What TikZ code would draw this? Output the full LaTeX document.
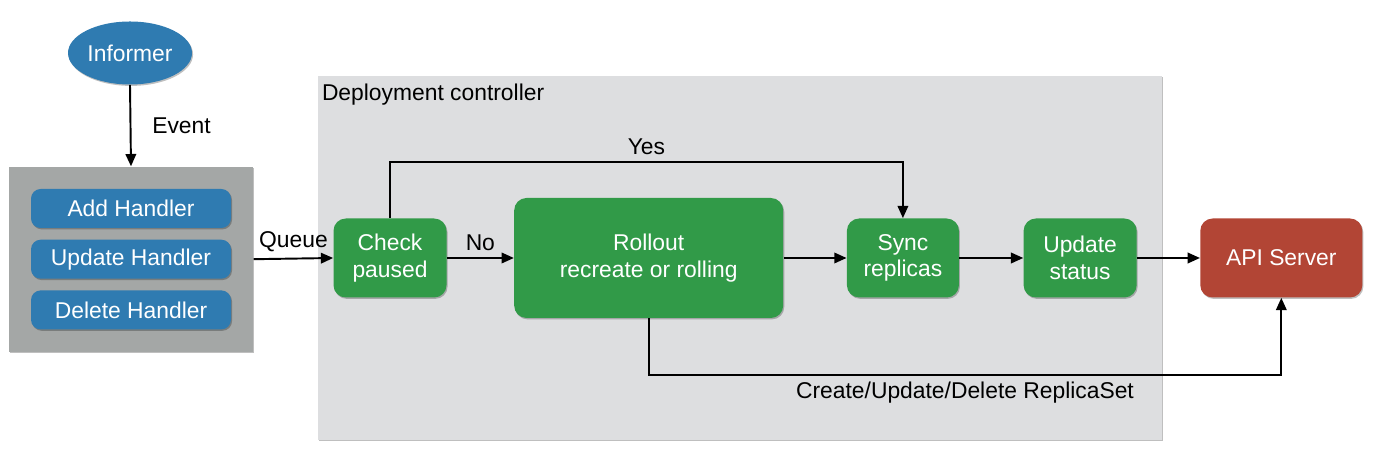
\documentclass[tikz,border=0pt]{standalone}
\usepackage{fontspec}
\setmainfont{Liberation Sans}
\usetikzlibrary{positioning,arrows.meta,fit,backgrounds,shapes.geometric,shadows}
\definecolor{ctrlgray}{HTML}{DDDEE0}
\definecolor{handlergray}{HTML}{A4A7A6}
\definecolor{infoblue}{HTML}{2F7BB1}
\definecolor{stepgreen}{HTML}{319A48}
\definecolor{apired}{HTML}{B24535}

\begin{document}
\begin{tikzpicture}[
    >={Triangle[length=7pt,width=6pt]},
    every node/.style={font=\fontsize{13}{15}\selectfont},
    softshadow/.style={
        drop shadow={shadow xshift=0.6pt, shadow yshift=-0.8pt, opacity=0.25, fill=black}
    },
    stage/.style={
        fill=#1, text=white, rounded corners=7pt,
        minimum width=2.26cm, minimum height=1.58cm,
        inner sep=2pt, align=center, softshadow
    },
    handler/.style={
        fill=infoblue, text=white, rounded corners=5.5pt,
        minimum width=4cm, minimum height=0.78cm,
        inner sep=2pt, softshadow
    },
    flow/.style={->, line width=1.1pt},
]
\useasboundingbox (0,0) rectangle (27.48,9.16);

% Deployment controller area
\node[fill=ctrlgray, minimum width=16.88cm, minimum height=7.28cm, softshadow] (ctrl) at (14.8,4.0) {};
\node[anchor=west, inner sep=0pt] (ctrltitle) at ([xshift=0.08cm, yshift=-0.38cm]ctrl.north west) {Deployment controller};

% Informer
\node[ellipse, fill=infoblue, text=white, minimum width=2.48cm, minimum height=1.26cm, inner sep=0pt, softshadow] (informer) at (2.6,8.1) {Informer};

% === Event handlers ===
\node[handler] (addh) at (2.62,4.99) {Add Handler};
\node[handler, below=0.22cm of addh] (updh) {Update Handler};
\node[handler, below=0.22cm of updh] (delh) {Delete Handler};

\begin{scope}[on background layer]
\node[fill=handlergray, inner sep=0.44cm, fit=(addh) (delh), softshadow] (handlers) {};
\end{scope}

\draw[flow] (informer.south) -- node[right=0.3cm] {Event} (handlers.north);

% === Controller steps ===
\node[stage=stepgreen] (check) at (7.8,4.0) {Check\\paused};
\node[stage=stepgreen, right=1.34cm of check, minimum width=5.38cm, minimum height=2.4cm] (rollout) {Rollout\\recreate or rolling};
\node[stage=stepgreen, right=1.26cm of rollout, minimum width=2.24cm] (sync) {Sync\\replicas};
\node[stage=stepgreen, right=1.28cm of sync] (status) {Update\\status};
\node[stage=apired, right=1.26cm of status, minimum width=3.24cm] (api) {API Server};

\draw[flow] (handlers.east) -- node[above] {Queue} (check.west);
\draw[flow] (check) -- node[above] {No} (rollout);
\draw[flow] (rollout) -- (sync);
\draw[flow] (sync) -- (status);
\draw[flow] (status) -- (api);

% Paused: skip rollout
\draw[flow] (check.north) -- ++(0,1.13) -| node[pos=0.25, above] {Yes} (sync.north);

% ReplicaSet changes
\draw[flow] (rollout.south) -- ++(0,-1.14) -| node[pos=0.25, below] {Create/Update/Delete ReplicaSet} (api.south);

\end{tikzpicture}
\end{document}
